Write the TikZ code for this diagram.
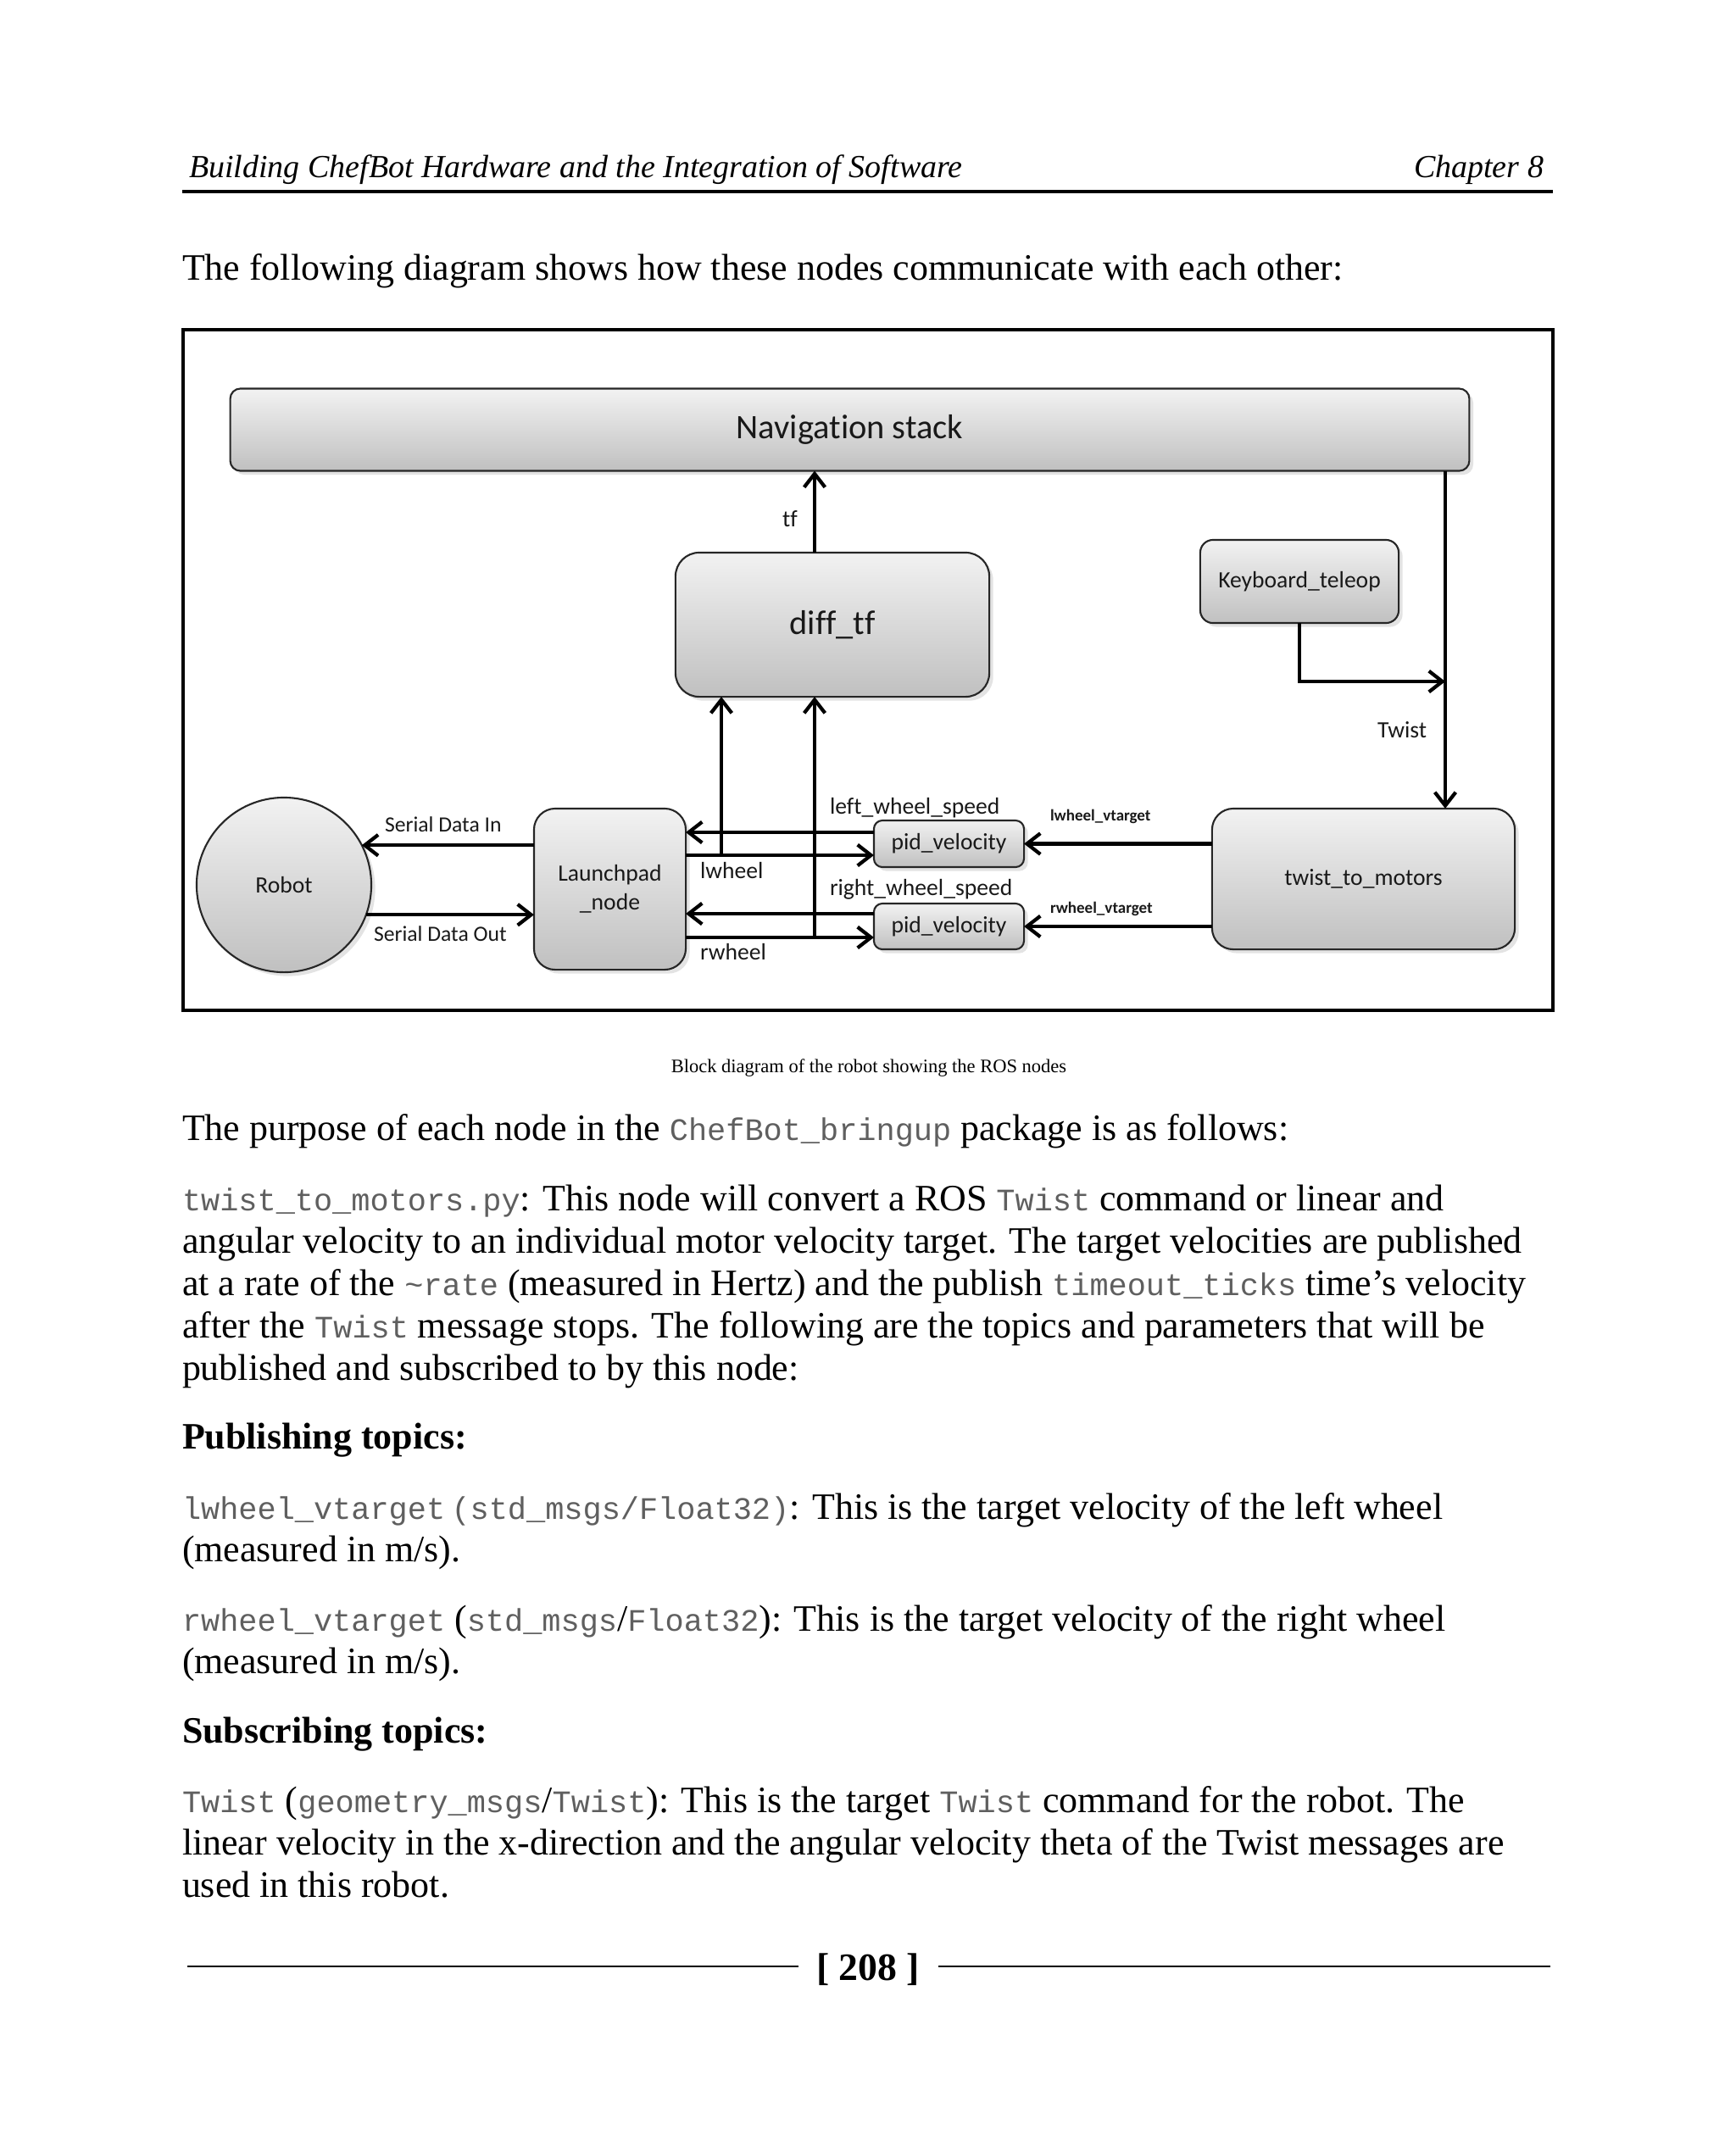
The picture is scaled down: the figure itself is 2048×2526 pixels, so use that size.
\documentclass[tikz,border=0pt]{standalone}
\usepackage{fontspec}
\setmainfont{Liberation Serif}
\newfontfamily\monof{Liberation Mono}
\newfontfamily\calib[Ligatures=NoCommon]{Carlito}
\usetikzlibrary{arrows.meta,shadows}
\definecolor{monogray}{RGB}{95,95,95}
\definecolor{boxtop}{RGB}{242,242,242}
\definecolor{boxbot}{RGB}{192,192,192}
\newcommand{\cmono}[1]{{\monof\fontsize{10.5}{12}\selectfont\color{monogray}#1}}
\begin{document}
\begin{tikzpicture}[x=0.01cm,y=-0.01cm,
  every node/.style={inner sep=0pt,outer sep=0pt},
  body/.style={anchor=base west,font=\fontsize{12.5}{15}\selectfont},
  rbox/.style={draw=black!85,line width=0.6pt,rounded corners=#1,top color=boxtop,bottom color=boxbot,
    drop shadow={shadow xshift=1.3pt,shadow yshift=-1.3pt,opacity=0.22},
    font=\calib\fontsize{7.85}{9.7}\selectfont,align=center,text=black!90},
  bigtxt/.style={font=\calib\fontsize{11.5}{13}\selectfont},
  lbl/.style={anchor=base west,font=\calib\fontsize{7.85}{9}\selectfont,text=black!90},
  slbl/.style={anchor=base west,font=\calib\fontsize{7.3}{9}\selectfont,text=black!90},
  vlbl/.style={anchor=base west,font=\calib\bfseries\fontsize{5.4}{7}\selectfont,text=black!90},
  arr/.style={line width=1.2pt,-{Straight Barb[length=4.5pt,width=7pt]}}
]
\useasboundingbox (0,0) rectangle (2048,2526);
\fill[white] (0,0) rectangle (2048,2526);

% header
\node[anchor=base west,font=\itshape\fontsize{10.8}{13}\selectfont] (hd) at (223,209) {Building ChefBot Hardware and the Integration of Software};
\node[anchor=base east,font=\itshape\fontsize{10.8}{13}\selectfont] (ch) at (1821,209) {Chapter 8};
\draw[line width=1pt] (215,226) -- (1832,226);

\node[body] (intro) at (215,330) {The following diagram shows how these nodes communicate with each other:};

% diagram frame
\draw[line width=1.4pt] (216,389) rectangle (1832,1192);

\coordinate (c1) at (851,0);
\coordinate (c2) at (961,0);
\coordinate (cx) at (1705,0);
\coordinate (r1) at (0,982);
\coordinate (r2) at (0,1009);
\coordinate (r3) at (0,1078);
\coordinate (r4) at (0,1106);
\coordinate (kj) at (1705,804);

\node[rbox=0.12cm,bigtxt,minimum width=14.61cm,minimum height=0.97cm] (nav) at (1002.5,507) {Navigation stack};
\node[rbox=0.28cm,bigtxt,minimum width=3.70cm,minimum height=1.70cm] (diff) at (982,737) {diff\_tf};
\node[rbox=0.15cm,minimum width=2.34cm,minimum height=0.98cm] (kbd) at (1533,686) {Keyboard\_teleop};
\node[rbox=0.25cm,minimum width=3.57cm,minimum height=1.66cm] (ttm) at (1608.5,1037) {twist\_to\_motors};
\node[rbox=0.25cm,minimum width=1.79cm,minimum height=1.90cm] (lp) at (719.5,1049) {Launchpad\\\_node};
\node[rbox=0.10cm,minimum width=1.77cm,minimum height=0.55cm] (pid1) at (1119.5,995.5) {pid\_velocity};
\node[rbox=0.10cm,minimum width=1.77cm,minimum height=0.54cm] (pid2) at (1119.5,1093) {pid\_velocity};
\node[circle,draw=black!85,line width=0.6pt,top color=boxtop,bottom color=boxbot,
  drop shadow={shadow xshift=1.3pt,shadow yshift=-1.3pt,opacity=0.22},
  minimum size=2.06cm,font=\calib\fontsize{7.85}{9}\selectfont,text=black!90] (robot) at (335,1044) {Robot};

% connectors
\draw[arr] (diff.north -| c2) -- (nav.south -| c2);
\draw[arr] (nav.south -| cx) -- (ttm.north -| cx);
\draw[arr] (kbd.south) |- (kj);
\draw[arr] (lp.west |- robot.27.2) -- (robot.27.2);
\draw[arr] (robot.-20.5) -- (lp.west |- robot.-20.5);
\draw[arr] (pid1.west |- r1) -- (lp.east |- r1);
\draw[arr] (lp.east |- r2) -- (pid1.west |- r2);
\draw[arr] (pid2.west |- r3) -- (lp.east |- r3);
\draw[arr] (lp.east |- r4) -- (pid2.west |- r4);
\draw[arr] (c1 |- r2) -- (diff.south -| c1);
\draw[arr] (c2 |- r4) -- (diff.south -| c2);
\draw[arr] (ttm.west |- pid1.east) -- (pid1.east);
\draw[arr] (ttm.west |- pid2.east) -- (pid2.east);

% labels
\node[lbl] (ltf) at (923,621) {tf};
\node[lbl] (ltw) at (1625,870) {Twist};
\node[lbl] (lls) at (979,960) {left\_wheel\_speed};
\node[lbl] (lrs) at (979,1056) {right\_wheel\_speed};
\node[lbl] (llw) at (826,1036) {lwheel};
\node[lbl] (lrw) at (826,1132) {rwheel};
\node[slbl] (lsi) at (454,981) {Serial Data In};
\node[slbl] (lso) at (441,1110) {Serial Data Out};
\node[vlbl] (llv) at (1239,968) {lwheel\_vtarget};
\node[vlbl] (lrv) at (1239,1077) {rwheel\_vtarget};

% caption
\node[anchor=base,font=\fontsize{6.4}{8}\selectfont] (cap) at (1025,1265) {Block diagram of the robot showing the ROS nodes};

% body text
\node[body] (p1) at (215,1345) {The purpose of each node in the \cmono{ChefBot\_bringup} package is as follows:};
\node[body] (t1) at (215,1428) {\cmono{twist\_to\_motors.py}: This node will convert a ROS \cmono{Twist} command or linear and};
\node[body] (t2) at (215,1478) {angular velocity to an individual motor velocity target. The target velocities are published};
\node[body] (t3) at (215,1528) {at a rate of the \cmono{\textasciitilde rate} (measured in Hertz) and the publish \cmono{timeout\_ticks} time's velocity};
\node[body] (t4) at (215,1578) {after the \cmono{Twist} message stops. The following are the topics and parameters that will be};
\node[body] (t5) at (215,1628) {published and subscribed to by this node:};

\node[body,font=\bfseries\fontsize{12.5}{15}\selectfont] (pub) at (215,1709) {Publishing topics:};
\node[body] (l1) at (215,1792) {\cmono{lwheel\_vtarget\hspace{0.2em}(std\_msgs/Float32)}: This is the target velocity of the left wheel};
\node[body] (l2) at (215,1842) {(measured in m/s).};
\node[body] (rw1) at (215,1924) {\cmono{rwheel\_vtarget} (\cmono{std\_msgs}/\cmono{Float32}): This is the target velocity of the right wheel};
\node[body] (rw2) at (215,1974) {(measured in m/s).};

\node[body,font=\bfseries\fontsize{12.5}{15}\selectfont] (sub) at (215,2056) {Subscribing topics:};
\node[body] (s1) at (215,2138) {\cmono{Twist} (\cmono{geometry\_msgs}/\cmono{Twist}): This is the target \cmono{Twist} command for the robot. The};
\node[body] (s2) at (215,2188) {linear velocity in the x-direction and the angular velocity theta of the Twist messages are};
\node[body] (s3) at (215,2238) {used in this robot.};

% footer
\draw[line width=0.7pt] (221,2320) -- (942,2320);
\draw[line width=0.7pt] (1107,2320) -- (1829,2320);
\node[anchor=base,font=\bfseries\fontsize{13}{15}\selectfont] (pg) at (1024,2336) {[ 208 ]};
\end{tikzpicture}
\end{document}
